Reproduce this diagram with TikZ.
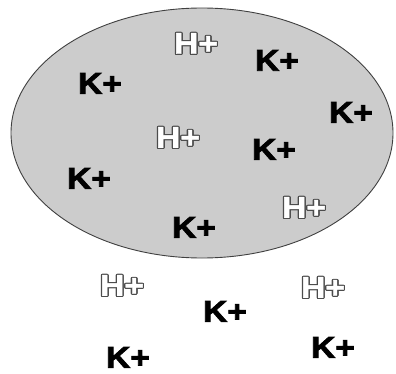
\documentclass[tikz,border=0pt]{standalone}
\usepackage{fontspec}
\setmainfont{Liberation Sans}
\newfontfamily\heavyfont[FakeBold=2.5]{Liberation Sans Bold}
\newfontfamily\hfont[FakeBold=1.2]{Liberation Sans Bold}
\usepackage{graphicx}
\usepackage{contour}
\contourlength{1.0pt}
\contournumber{24}
\begin{document}
\begin{tikzpicture}[x=1pt,y=1pt,
  ion/.style={inner sep=0pt, anchor=center, text height=21.5pt, text depth=0pt},
  kion/.style={ion, font=\fontsize{30}{30}\selectfont\heavyfont},
  hion/.style={ion, font=\fontsize{30}{30}\selectfont\hfont}]
\useasboundingbox (0,0) rectangle (396,373);
\draw[fill=black!20, draw=black!75, line width=0.9pt] (202,240) ellipse [x radius=191, y radius=125];
\newcommand{\kp}{\scalebox{1.12}[1]{K+}}
\newcommand{\hp}{\scalebox{1.12}[1]{\contour{black!70}{\textcolor{white}{H+}}}}
\node[hion] (h1) at (196,330) {\hp};
\node[kion] (k1) at (277,313) {\kp};
\node[kion] (k2) at (100,290) {\kp};
\node[kion] (k3) at (351,261) {\kp};
\node[hion] (h2) at (178,236) {\hp};
\node[kion] (k4) at (274,224) {\kp};
\node[kion] (k5) at (89,195) {\kp};
\node[hion] (h3) at (304,166) {\hp};
\node[kion] (k6) at (194,146) {\kp};
\node[hion] (h4) at (122,88) {\hp};
\node[hion] (h5) at (323,86) {\hp};
\node[kion] (k7) at (225,62) {\kp};
\node[kion] (k8) at (333,26) {\kp};
\node[kion] (k9) at (128,16) {\kp};
\end{tikzpicture}
\end{document}
